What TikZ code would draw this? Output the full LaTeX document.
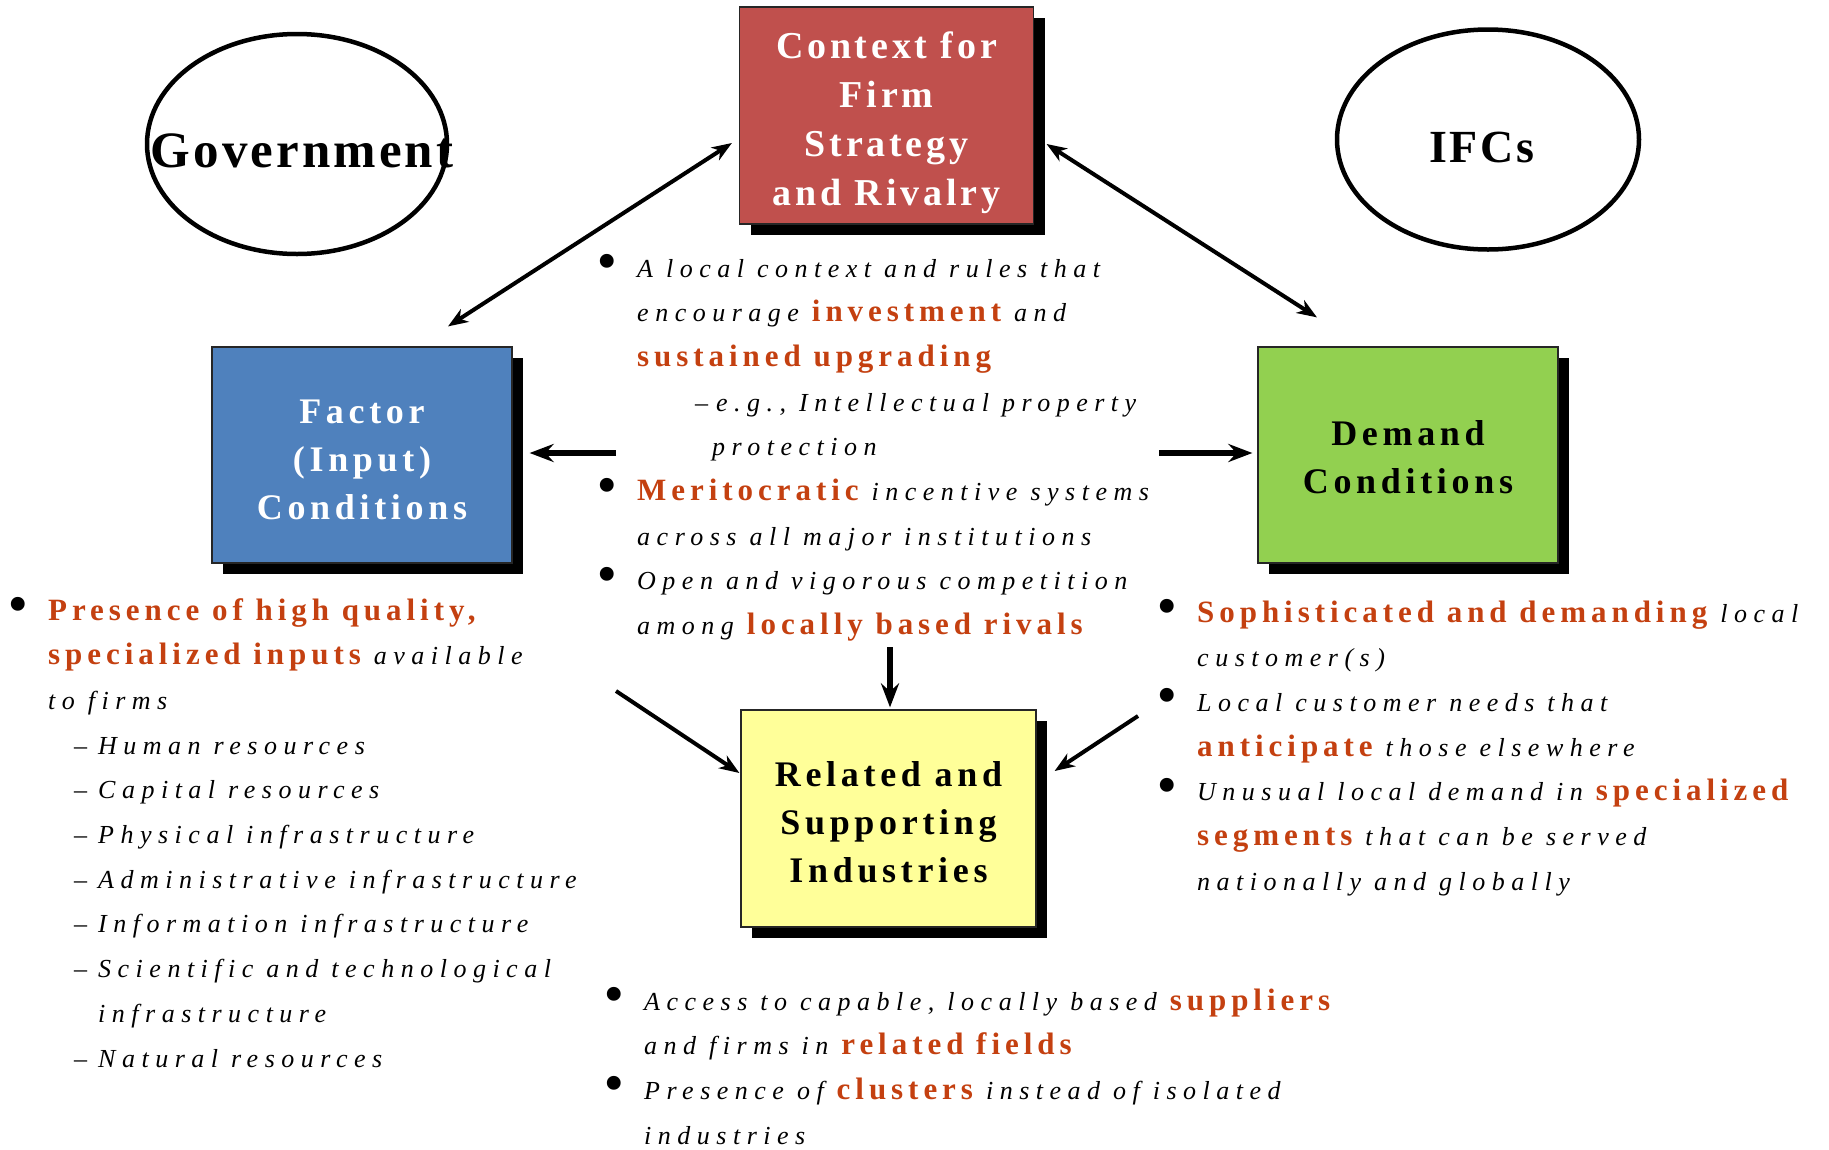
\documentclass[tikz,border=0pt]{standalone}
\usepackage{fontspec}
\setmainfont{Liberation Serif}
\newfontfamily\scrfont[LetterSpace=25]{Liberation Serif}
\newfontfamily\hlfont[LetterSpace=16]{Liberation Serif}
\newfontfamily\lblfont[LetterSpace=13]{Liberation Serif}
\newfontfamily\ctxfont[LetterSpace=10]{Liberation Serif}
\newfontfamily\govfont[LetterSpace=6]{Liberation Serif}
\newfontfamily\bulfont{Liberation Serif}
\usetikzlibrary{arrows.meta,shapes.geometric,shadows}

\definecolor{redbox}{RGB}{192,80,77}
\definecolor{bluebox}{RGB}{79,129,189}
\definecolor{greenbox}{RGB}{146,208,80}
\definecolor{yellowbox}{RGB}{255,255,153}
\definecolor{hl}{RGB}{196,64,16}

% highlighted phrase, bullet, one line of a list
\newcommand\hl[1]{{\hlfont\bfseries\upshape\color{hl}\fontsize{31}{44.7}\selectfont #1}}
\newcommand\bul{\leavevmode\llap{{\bulfont\fontsize{58}{58}\selectfont\makebox[0pt][c]{\raisebox{-3.5pt}{•}}}\hspace{31pt}}}
\newcommand\tline[1]{\hbox{#1}}
\newcommand\listfont{\scrfont\itshape\fontsize{26}{44.7}\selectfont\baselineskip=44.7pt\lineskiplimit=-\maxdimen}

\tikzset{
  panel/.style={draw=black!85, line width=1.2pt,
    general shadow={fill=black, shadow xshift=11pt, shadow yshift=-11pt}},
  panellabel/.style={align=center, inner sep=0pt,
    font={\lblfont\bfseries\fontsize{36}{48}\selectfont}},
  ring/.style={draw, ellipse, line width=4.5pt, fill=white},
  thinarrow/.style={line width=4pt, {Stealth[length=20pt,width=15pt,inset=6pt]}-{Stealth[length=20pt,width=15pt,inset=6pt]}},
  onearrow/.style={line width=4pt, -{Stealth[length=20pt,width=15pt,inset=6pt]}},
  boldarrow/.style={line width=6.5pt, -{Stealth[length=24pt,width=18pt,inset=8pt]}},
  listbox/.style={anchor=base west, inner sep=0pt}
}

\begin{document}
\begin{tikzpicture}[x=1pt,y=-1pt]
\fill[white] (0,0) rectangle (1829,1149);
\useasboundingbox (0,0) rectangle (1829,1149);

% the two outside influences
\node[ring, minimum width=300pt, minimum height=220pt] (gov) at (297,144) {};
\node[anchor=base, inner sep=0pt, font={\govfont\bfseries\fontsize{51}{51}\selectfont}] (govlabel) at (302,167) {Government};
\node[ring, minimum width=302pt, minimum height=220pt] (ifc) at (1488,139.5) {};
\node[anchor=base, inner sep=0pt, font={\govfont\bfseries\fontsize{46}{46}\selectfont}] (ifclabel) at (1482,162) {IFCs};

% the four determinants
\node[panel, fill=redbox, minimum width=294pt, minimum height=217pt] (ctx) at (886.5,115.5) {};
\node[panellabel, text=white, font={\ctxfont\bfseries\fontsize{38}{49}\selectfont}] (ctxlabel)
  at ([yshift=-7pt]ctx.center) {Context for\\Firm\\Strategy\\and Rivalry};
\node[panel, fill=bluebox, minimum width=300pt, minimum height=216pt] (factor) at (362,455) {};
\node[panellabel, text=white] (factorlabel) at ([yshift=-5pt]factor.center) {Factor\\(Input)\\Conditions};
\node[panel, fill=greenbox, minimum width=300pt, minimum height=216pt] (demand) at (1408,455) {};
\node[panellabel] (demandlabel) at ([yshift=-2.5pt]demand.center) {Demand\\Conditions};
\node[panel, fill=yellowbox, minimum width=295pt, minimum height=217pt] (rel) at (888.5,818.5) {};
\node[panellabel] (rellabel) at ([yshift=-4pt]rel.center) {Related and\\Supporting\\Industries};

% lists of conditions
\node[listbox] (ctxlist) at (637,277) {\vtop{\listfont
  \tline{\bul A local context and rules that}
  \tline{encourage \hl{investment} and}
  \tline{\hl{sustained upgrading}}
  \tline{\hspace*{58pt}\makebox[21pt][l]{–}e.g., Intellectual property}
  \tline{\hspace*{75pt}protection}
  \tline{\bul\hl{Meritocratic} incentive systems}
  \tline{across all major institutions}
  \tline{\bul Open and vigorous competition}
  \tline{among \hl{locally based rivals}}}};

\node[listbox] (factorlist) at (48,620) {\vtop{\listfont
  \tline{\bul\hl{Presence of high quality,}}
  \tline{\hl{specialized inputs} available}
  \tline{to firms}
  \tline{\hspace*{26pt}\makebox[24pt][l]{–}Human resources}
  \tline{\hspace*{26pt}\makebox[24pt][l]{–}Capital resources}
  \tline{\hspace*{26pt}\makebox[24pt][l]{–}Physical infrastructure}
  \tline{\hspace*{26pt}\makebox[24pt][l]{–}Administrative infrastructure}
  \tline{\hspace*{26pt}\makebox[24pt][l]{–}Information infrastructure}
  \tline{\hspace*{26pt}\makebox[24pt][l]{–}Scientific and technological}
  \tline{\hspace*{50pt}infrastructure}
  \tline{\hspace*{26pt}\makebox[24pt][l]{–}Natural resources}}};

\node[listbox] (demandlist) at (1197,622) {\vtop{\listfont
  \tline{\bul\hl{Sophisticated and demanding} local}
  \tline{customer(s)}
  \tline{\bul Local customer needs that}
  \tline{\hl{anticipate} those elsewhere}
  \tline{\bul Unusual local demand in \hl{specialized}}
  \tline{\hl{segments} that can be served}
  \tline{nationally and globally}}};

\node[listbox] (rellist) at (644,1010) {\vtop{\listfont
  \tline{\bul Access to capable, locally based \hl{suppliers}}
  \tline{and firms in \hl{related fields}}
  \tline{\bul Presence of \hl{clusters} instead of isolated}
  \tline{industries}}};

% connectors
\draw[thinarrow] ([xshift=86pt,yshift=20pt]factor.north) -- ([xshift=-7pt,yshift=-27.5pt]ctx.west);
\draw[thinarrow] ([xshift=12.5pt,yshift=-28.5pt]ctx.east) -- ([xshift=-91pt,yshift=29pt]demand.north);

\coordinate (rvL) at (616,453);
\coordinate (rvR) at (1159,453);
\coordinate (rvD) at (890,647);
\coordinate (fcL) at (616,691);
\coordinate (dcR) at (1138,716);
\draw[boldarrow] (rvL) -- ([xshift=17pt,yshift=2pt]factor.east);
\draw[boldarrow] (rvR) -- ([xshift=-5pt,yshift=2pt]demand.west);
\draw[boldarrow] (rvD) -- ([xshift=1.5pt,yshift=2pt]rel.north);
\draw[onearrow] (fcL) -- ([xshift=-1pt,yshift=45.5pt]rel.west);
\draw[onearrow] (dcR) -- ([xshift=18pt,yshift=47.5pt]rel.east);
\end{tikzpicture}
\end{document}
